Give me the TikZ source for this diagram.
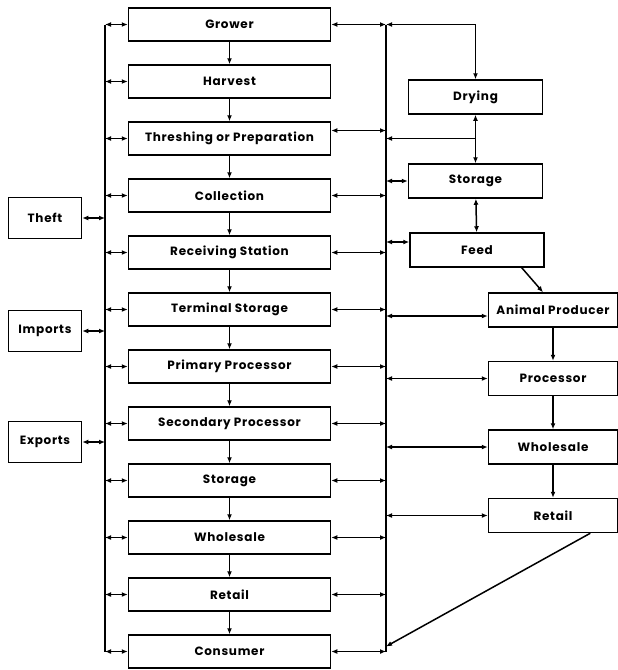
\documentclass[tikz,border=0pt]{standalone}
\usepackage{fontspec}
\setmainfont[LetterSpace=6]{Poppins}
\usetikzlibrary{arrows.meta,positioning,calc}

\begin{document}
\begin{tikzpicture}[
  x=1pt,y=-1pt,
  node distance=22.5pt,
  box/.style={rectangle,draw,line width=1.5pt,minimum width=202pt,
    minimum height=33pt,inner sep=2pt,font=\fontsize{12}{14}\selectfont\bfseries},
  sidebox/.style={box,minimum width=73pt,minimum height=41pt},
  rbox/.style={box,minimum width=134pt,minimum height=34pt},
  prodbox/.style={box,minimum width=129pt,minimum height=34pt},
  line/.style={line width=1.5pt},
  arrow/.style={-{Latex[length=6pt,width=5pt]},line width=1.5pt},
  dblarrow/.style={{Latex[length=6pt,width=5pt]}-{Latex[length=6pt,width=5pt]},line width=1.5pt},
]
\useasboundingbox (0,0) rectangle (618,670);

% main chain
\node[box] (grower) at (229.5,24.5) {Grower};
\node[box,below=of grower] (harvest) {Harvest};
\node[box,below=of harvest] (thresh) {Threshing or Preparation};
\node[box,below=of thresh] (collect) {Collection};
\node[box,below=of collect] (receive) {Receiving Station};
\node[box,below=of receive] (terminal) {Terminal Storage};
\node[box,below=of terminal] (primary) {Primary Processor};
\node[box,below=of primary] (second) {Secondary Processor};
\node[box,below=of second] (storage) {Storage};
\node[box,below=of storage] (whole) {Wholesale};
\node[box,below=of whole] (retail) {Retail};
\node[box,below=of retail] (consumer) {Consumer};

\draw[arrow] (grower) -- (harvest);
\draw[arrow] (harvest) -- (thresh);
\draw[arrow] (thresh) -- (collect);
\draw[arrow] (collect) -- (receive);
\draw[arrow] (receive) -- (terminal);
\draw[arrow] (terminal) -- (primary);
\draw[arrow] (primary) -- (second);
\draw[arrow] (second) -- (storage);
\draw[arrow] (storage) -- (whole);
\draw[arrow] (whole) -- (retail);
\draw[arrow] (retail) -- (consumer);

% left side
\node[sidebox] (theft) at (45,218) {Theft};
\node[sidebox] (imports) at (45,331) {Imports};
\node[sidebox] (exports) at (45,442) {Exports};

\coordinate (lb) at (105,0);
\draw[line] (grower.west -| lb) -- (consumer.west -| lb);
\draw[dblarrow] (grower.west -| lb) -- (grower.west);
\draw[dblarrow] (harvest.west -| lb) -- (harvest.west);
\draw[dblarrow] (thresh.west -| lb) -- (thresh.west);
\draw[dblarrow] (collect.west -| lb) -- (collect.west);
\draw[dblarrow] (receive.west -| lb) -- (receive.west);
\draw[dblarrow] (terminal.west -| lb) -- (terminal.west);
\draw[dblarrow] (primary.west -| lb) -- (primary.west);
\draw[dblarrow] (second.west -| lb) -- (second.west);
\draw[dblarrow] (storage.west -| lb) -- (storage.west);
\draw[dblarrow] (whole.west -| lb) -- (whole.west);
\draw[dblarrow] (retail.west -| lb) -- (retail.west);
\draw[dblarrow] (consumer.west -| lb) -- (consumer.west);
\draw[dblarrow] (theft.east) -- (theft.east -| lb);
\draw[dblarrow] (imports.east) -- (imports.east -| lb);
\draw[dblarrow] (exports.east) -- (exports.east -| lb);

% right side, feed branch
\node[rbox] (drying) at (475.5,97) {Drying};
\node[rbox] (rstorage) at (475.5,181) {Storage};
\node[rbox] (feed) at (477,250) {Feed};

\node[prodbox] (animal) at (553,310) {Animal Producer};
\node[prodbox,below=33pt of animal] (proc) {Processor};
\node[prodbox,below=33pt of proc] (pwhole) {Wholesale};
\node[prodbox,below=33pt of pwhole] (pretail) {Retail};

\coordinate (rb) at (386,0);
\draw[line] (grower.east -| rb) -- (consumer.east -| rb);
\draw[dblarrow] (grower.east) -- (grower.east -| rb);
\draw[dblarrow] (grower.east -| rb) -| (drying.north);
\draw[dblarrow] ([yshift=8pt]thresh.east) -- ([yshift=8pt]thresh.east -| rb);
\draw[dblarrow] (collect.east) -- (collect.east -| rb);
\draw[dblarrow] (receive.east) -- (receive.east -| rb);
\draw[dblarrow] (terminal.east) -- (terminal.east -| rb);
\draw[dblarrow] (primary.east) -- (primary.east -| rb);
\draw[dblarrow] (second.east) -- (second.east -| rb);
\draw[dblarrow] (storage.east) -- (storage.east -| rb);
\draw[dblarrow] (whole.east) -- (whole.east -| rb);
\draw[dblarrow] (retail.east) -- (retail.east -| rb);
\draw[dblarrow] (consumer.east) -- (consumer.east -| rb);

\draw[dblarrow] (drying) -- (rstorage);
\draw[arrow] (drying.south |- thresh.east) -- (thresh.east -| rb);
\draw[dblarrow] (rstorage.west -| rb) -- (rstorage.west);
\draw[dblarrow] (rstorage) -- (feed);
\draw[dblarrow] ([yshift=8pt]feed.west -| rb) -- ([yshift=8pt]feed.west);
\draw[arrow] ([xshift=-23pt]feed.south east) -- ([xshift=-10pt]animal.north);

\draw[dblarrow] ([yshift=-6pt]animal.west -| rb) -- ([yshift=-6pt]animal.west);
\draw[dblarrow] (proc.west -| rb) -- (proc.west);
\draw[dblarrow] (pwhole.west -| rb) -- (pwhole.west);
\draw[dblarrow] (pretail.west -| rb) -- (pretail.west);
\draw[arrow] (animal) -- (proc);
\draw[arrow] (proc) -- (pwhole);
\draw[arrow] (pwhole) -- (pretail);
\draw[arrow] ([xshift=-28pt]pretail.south east) -- ([yshift=5pt]consumer.east -| rb);
\end{tikzpicture}
\end{document}
